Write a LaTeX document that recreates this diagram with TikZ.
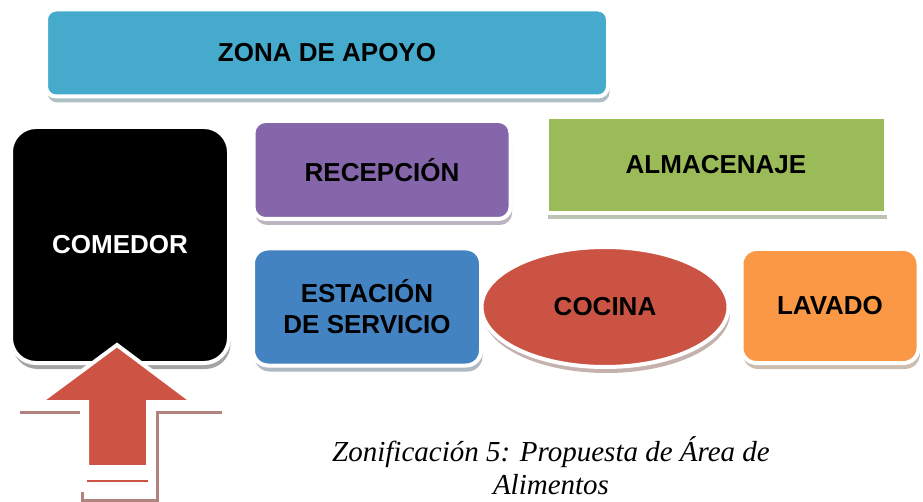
\documentclass[tikz,border=0pt]{standalone}
\usepackage{fontspec}
\setmainfont{Liberation Serif}
\setsansfont{Liberation Sans}
\usetikzlibrary{shapes.geometric,shadows}
\definecolor{apoyo}{RGB}{69,170,204}
\definecolor{recepcion}{RGB}{134,102,170}
\definecolor{almacen}{RGB}{155,187,89}
\definecolor{estacion}{RGB}{67,131,193}
\definecolor{cocina}{RGB}{203,83,68}
\definecolor{lavado}{RGB}{250,152,70}
\definecolor{flecharoja}{RGB}{205,84,69}
\definecolor{flechasombra}{RGB}{178,130,126}
\tikzset{
  zone/.style={draw=white, line width=4pt, fill=#1, inner sep=0pt, align=center,
    font=\sffamily\bfseries\fontsize{26}{31}\selectfont,
    drop shadow={shadow xshift=1.5pt, shadow yshift=-6pt, fill=#1!30!gray!55!white, opacity=1}},
  flecha/.style={fill=flecharoja, draw=white, line width=4pt},
  sombra/.style={draw=flechasombra, line width=3pt}
}
\begin{document}
\begin{tikzpicture}[x=1pt,y=-1pt]
\useasboundingbox (0,0) rectangle (923,502);
% zonas
\node[zone=apoyo, rounded corners=10pt, minimum width=562, minimum height=87] (apoyo) at (327,53) {ZONA DE APOYO};
\node[zone=black, text=white, rounded corners=25pt, minimum width=218, minimum height=236] (comedor) at (120,245) {COMEDOR};
\node[zone=recepcion, rounded corners=12pt, minimum width=257, minimum height=98] (recepcion) at (382,170) {RECEPCIÓN};
\node[zone=almacen, minimum width=339, minimum height=96] (almacen) at (716,165) {ALMACENAJE};
\node[zone=estacion, rounded corners=15pt, minimum width=228, minimum height=117] (estacion) at (367,307) {ESTACIÓN\\DE SERVICIO};
\node[zone=cocina, ellipse, minimum width=247, minimum height=120] (cocina) at (605,307) {COCINA};
\node[zone=lavado, rounded corners=15pt, minimum width=177, minimum height=114] (lavado) at (830,306) {LAVADO};
% flecha de entrada
\draw[sombra] (20,412) -- (80,412);
\draw[sombra] (82,492) -- (82,500) -- (157,500) -- (157,412) -- (222,412);
\filldraw[flecha] (117,345) -- (193,402) -- (148,402) -- (148,467) -- (87,467) -- (87,402) -- (40,402) -- cycle;
\draw[flecharoja, line width=2pt] (87,481) -- (148,481);
% leyenda
\node[font=\itshape\fontsize{29}{33}\selectfont, align=center] (leyenda) at (551,466) {Zonificación 5: Propuesta de Área de\\Alimentos};
\end{tikzpicture}
\end{document}
